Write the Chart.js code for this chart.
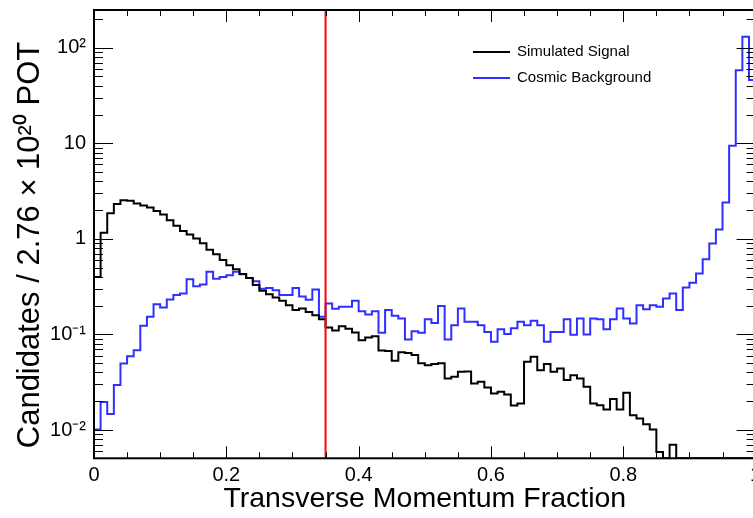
<!DOCTYPE html>
<html lang="en">
<head>
  <meta charset="UTF-8" />
  <title>Transverse Momentum Fraction</title>
  <script src="https://cdn.jsdelivr.net/npm/chart.js"></script>
  <style>
    html, body { margin: 0; padding: 0; background: #fff; overflow: hidden; }
    canvas { display: block; }
  </style>
</head>
<body>
  <canvas id="ptChart" width="760" height="518"></canvas>

  <script>
    // 100 bins from 0 to 1
    const binCount = 100;
    const xMin = 0;
    const xMax = 1;

    const signalValues = [
      0.40, 1.16, 1.85, 2.31, 2.54, 2.50, 2.35, 2.24, 2.13, 1.96,
      1.80, 1.57, 1.37, 1.21, 1.11, 1.01, 0.90, 0.77, 0.69, 0.60,
      0.53, 0.48, 0.43, 0.39, 0.33, 0.286, 0.264, 0.244, 0.225, 0.202,
      0.180, 0.187, 0.172, 0.159, 0.144, 0.118, 0.110, 0.122, 0.115, 0.105,
      0.087, 0.093, 0.096, 0.068, 0.067, 0.053, 0.065, 0.064, 0.061, 0.050,
      0.0477, 0.049, 0.050, 0.0347, 0.036, 0.0406, 0.041, 0.0307, 0.0319, 0.0279,
      0.0241, 0.0251, 0.0236, 0.0181, 0.019, 0.0517, 0.0583, 0.0423, 0.049, 0.0406,
      0.044, 0.0333, 0.0375, 0.0347, 0.0283, 0.019, 0.0182, 0.0164, 0.0211, 0.0164,
      0.0245, 0.0143, 0.0132, 0.0115, 0.0101, 0.0059, 0, 0.0070, 0, 0,
      0, 0, 0, 0, 0, 0, 0, 0, 0, 0
    ];

    const cosmicValues = [
      0.0101, 0.0197, 0.0147, 0.0295, 0.0498, 0.0593, 0.0685, 0.123, 0.153, 0.207,
      0.191, 0.232, 0.258, 0.268, 0.379, 0.32, 0.333, 0.452, 0.382, 0.40,
      0.417, 0.452, 0.427, 0.39, 0.36, 0.30, 0.307, 0.29, 0.258, 0.258,
      0.307, 0.25, 0.23, 0.296, 0.153, 0.211, 0.186, 0.195, 0.195, 0.225,
      0.175, 0.162, 0.175, 0.104, 0.180, 0.157, 0.147, 0.0887, 0.108, 0.104,
      0.144, 0.132, 0.198, 0.0887, 0.125, 0.187, 0.136, 0.136, 0.125, 0.106,
      0.0837, 0.113, 0.101, 0.116, 0.136, 0.125, 0.139, 0.125, 0.084, 0.106,
      0.106, 0.144, 0.099, 0.147, 0.100, 0.147, 0.144, 0.113, 0.144, 0.187,
      0.147, 0.130, 0.202, 0.183, 0.202, 0.195, 0.238, 0.268, 0.18, 0.31,
      0.347, 0.434, 0.613, 0.895, 1.25, 2.40, 9.4, 58, 130, 46
    ];

    const cutValue = 0.35;

    const xTickValues = [0, 0.2, 0.4, 0.6, 0.8, 1];
    const yTickValues = [0.01, 0.1, 1, 10, 100];
    const yTickLabels = ['10\u207B\u00B2', '10\u207B\u00B9', '1', '10', '10\u00B2'];
    const yMin = 0.00506;
    const yMax = 248;

    const seriesLabels = ['Simulated Signal', 'Cosmic Background'];
    const seriesColors = ['#000000', '#2f2fff'];

    // bin contents -> step points at bin edges (last value repeated at the right edge)
    // empty bins sit on the axis floor, log scale can't take 0
    function toSteps(values) {
      const w = (xMax - xMin) / binCount;
      const pts = values.map((v, i) => ({ x: xMin + i * w, y: v > 0 ? v : yMin }));
      pts.push({ x: xMax, y: pts[pts.length - 1].y });
      return pts;
    }

    // no extra room for edge labels, the frame is fixed by layout padding
    function noEdgePadding(s) {
      s.paddingTop = 0;
      s.paddingBottom = 0;
      s.paddingLeft = 0;
      s.paddingRight = 0;
    }

    // ROOT-like frame with inner ticks on all four sides
    const frameTicks = {
      id: 'frameTicks',
      afterDatasetsDraw(chart) {
        const { ctx, chartArea: a, scales: { x, y } } = chart;
        ctx.save();
        ctx.strokeStyle = '#000';
        ctx.lineWidth = 1;
        ctx.beginPath();
        for (let k = 0; k <= 20; k++) {
          const px = Math.round(x.getPixelForValue(k * 0.05)) + 0.5;
          const len = k % 4 === 0 ? 12 : 6;
          ctx.moveTo(px, a.bottom); ctx.lineTo(px, a.bottom - len);
          ctx.moveTo(px, a.top); ctx.lineTo(px, a.top + len);
        }
        for (let d = -3; d <= 2; d++) {
          for (let m = 1; m <= 9; m++) {
            const v = m * Math.pow(10, d);
            if (v < yMin || v > yMax) continue;
            const py = Math.round(y.getPixelForValue(v)) + 0.5;
            const len = m === 1 ? 19 : 9;
            ctx.moveTo(a.left, py); ctx.lineTo(a.left + len, py);
            ctx.moveTo(a.right, py); ctx.lineTo(a.right - len, py);
          }
        }
        ctx.stroke();
        ctx.lineWidth = 2;
        ctx.strokeRect(a.left, a.top, a.right - a.left, a.bottom - a.top);
        ctx.restore();
      }
    };

    // legend inside the frame, top right
    const plotLegend = {
      id: 'plotLegend',
      afterDraw(chart) {
        const ctx = chart.ctx;
        ctx.save();
        ctx.font = '15px "Liberation Sans", Arial, sans-serif';
        ctx.textBaseline = 'middle';
        ctx.fillStyle = '#000';
        const rows = chart.data.datasets.filter(ds => seriesLabels.includes(ds.label));
        rows.forEach((ds, i) => {
          const yy = 52 + i * 26;
          ctx.strokeStyle = ds.borderColor;
          ctx.lineWidth = 2;
          ctx.beginPath();
          ctx.moveTo(473, yy); ctx.lineTo(510, yy);
          ctx.stroke();
          ctx.fillText(ds.label, 517, yy);
        });
        ctx.restore();
      }
    };

    const ctx = document.getElementById('ptChart').getContext('2d');
    new Chart(ctx, {
      type: 'line',
      data: {
        datasets: [
          {
            label: 'cut',
            data: [{ x: cutValue, y: 1e-4 }, { x: cutValue, y: 1e4 }],
            borderColor: '#ff0000',
            borderWidth: 2,
            pointRadius: 0
          },
          {
            label: seriesLabels[0],
            data: toSteps(signalValues),
            borderColor: seriesColors[0],
            borderWidth: 2,
            pointRadius: 0,
            stepped: 'before'
          },
          {
            label: seriesLabels[1],
            data: toSteps(cosmicValues),
            borderColor: seriesColors[1],
            borderWidth: 2,
            pointRadius: 0,
            stepped: 'before'
          }
        ]
      },
      options: {
        responsive: false,
        animation: false,
        devicePixelRatio: 1,
        layout: { padding: { top: 10, right: 4.4, left: 0, bottom: 0 } },
        plugins: {
          legend: { display: false },
          tooltip: { enabled: false }
        },
        scales: {
          x: {
            type: 'linear',
            min: xMin,
            max: xMax,
            grid: { display: false, drawTicks: false },
            border: { display: false },
            afterBuildTicks: (s) => { s.ticks = xTickValues.map(v => ({ value: v })); },
            afterFit: (s) => { s.height = 59.7; noEdgePadding(s); },
            ticks: {
              color: '#000',
              padding: 5,
              maxRotation: 0,
              autoSkip: false,
              font: { family: '"Liberation Sans", Arial, sans-serif', size: 20 },
              callback: (v) => String(v)
            },
            title: {
              display: true,
              text: 'Transverse Momentum Fraction',
              color: '#000',
              padding: { top: 0, bottom: 2 },
              font: { family: '"Liberation Sans", Arial, sans-serif', size: 28.5 }
            }
          },
          y: {
            type: 'logarithmic',
            min: yMin,
            max: yMax,
            grid: { display: false, drawTicks: false },
            border: { display: false },
            afterBuildTicks: (s) => { s.ticks = yTickValues.map(v => ({ value: v })); },
            afterFit: (s) => { s.width = 94; noEdgePadding(s); },
            ticks: {
              color: '#000',
              padding: 8,
              autoSkip: false,
              font: { family: '"Liberation Sans", Arial, sans-serif', size: 20 },
              callback: (v) => {
                const i = yTickValues.indexOf(v);
                return i >= 0 ? yTickLabels[i] : '';
              }
            },
            title: {
              display: true,
              // trailing spaces push the text a little lower, as in the original
              text: 'Candidates / 2.76 \u00D7 10\u00B2\u2070 POT\u2002\u2009',
              color: '#000',
              padding: { top: 12, bottom: 0 },
              font: { family: '"Liberation Sans", Arial, sans-serif', size: 31 }
            }
          }
        }
      },
      plugins: [frameTicks, plotLegend]
    });
  </script>
</body>
</html>
